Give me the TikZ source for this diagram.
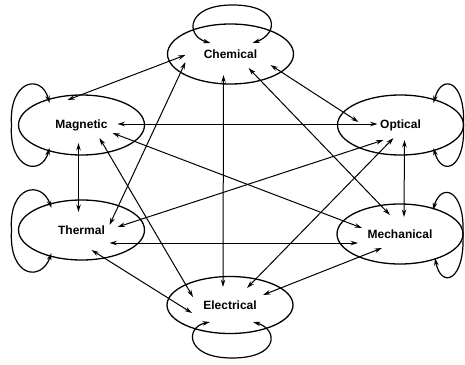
\documentclass[tikz,border=0pt]{standalone}
\usepackage{fontspec}
\setmainfont{Liberation Sans}
\usetikzlibrary{shapes.geometric,arrows.meta,calc}
\begin{document}
\begin{tikzpicture}[x=1pt,y=-1pt,
  form/.style={draw,ellipse,line width=1.3pt,minimum width=126pt,minimum height=60pt,inner sep=0pt,font=\fontsize{12}{14}\selectfont\bfseries},
  conn/.style={line width=1pt,{Stealth[length=7.5pt,width=4.5pt]}-{Stealth[length=7.5pt,width=4.5pt]}},
  selfloop/.style={conn,line width=1.2pt}]
\useasboundingbox (0,0) rectangle (465,364);

\node[form] (chem) at (230.5,54) {Chemical};
\node[form] (mag) at (81.5,125) {Magnetic};
\node[form] (opt) at (400.5,125) {Optical};
\node[form] (therm) at (81.5,230) {Thermal};
\node[form] (mech) at (400,234) {Mechanical};
\node[form,minimum height=57pt] (elec) at (230,305) {Electrical};

% connectors
\draw[conn] ($(chem)+(-45,1)$) -- ($(mag)+(-14,-25)$);
\draw[conn] ($(chem)+(-45,8)$) -- ($(therm)+(28,-5)$);
\draw[conn] ($(chem)+(-7,21)$) -- ($(elec)+(-7,-18)$);
\draw[conn] ($(chem)+(18,14)$) -- ($(mech)+(-10,-19)$);
\draw[conn] ($(chem)+(40,11)$) -- ($(opt)+(-42,-3)$);
\draw[conn] ($(mag)+(36,-1)$) -- ($(opt)+(-23,-1)$);
\draw[conn] ($(mag)+(-3,18)$) -- ($(therm)+(-3,-18)$);
\draw[conn] ($(mag)+(18,13)$) -- ($(elec)+(-37,-8)$);
\draw[conn] ($(mag)+(31,8)$) -- ($(mech)+(-38,-6)$);
\draw[conn] ($(opt)+(-17,15)$) -- ($(therm)+(36,-3)$);
\draw[conn] ($(opt)+(-7,13)$) -- ($(elec)+(17,-17)$);
\draw[conn] ($(opt)+(4,15)$) -- ($(mech)+(4,-17)$);
\draw[conn] ($(therm)+(28,13)$) -- ($(mech)+(-42,9)$);
\draw[conn] ($(therm)+(10,20)$) -- ($(elec)+(-38,8)$);
\draw[conn] ($(mech)+(-18,14)$) -- ($(elec)+(33,-10)$);

% self loops
\draw[selfloop] ($(chem)+(-20,-11)$) .. controls ($(chem)+(-45,-18)$) and ($(chem)+(-45,-49)$) .. ($(chem)+(2,-49)$) .. controls ($(chem)+(50,-49)$) and ($(chem)+(48,-20)$) .. ($(chem)+(22,-11)$);
\draw[selfloop] ($(elec)+(-20,17)$) .. controls ($(elec)+(-45,22)$) and ($(elec)+(-45,53)$) .. ($(elec)+(2,53)$) .. controls ($(elec)+(50,53)$) and ($(elec)+(48,24)$) .. ($(elec)+(23,17)$);
\draw[selfloop] ($(mag)+(-32,-22)$) .. controls ($(mag)+(-40,-52)$) and ($(mag)+(-73,-45)$) .. ($(mag)+(-70,0)$) .. controls ($(mag)+(-73,45)$) and ($(mag)+(-40,52)$) .. ($(mag)+(-32,23)$);
\draw[selfloop] ($(therm)+(-30,-22)$) .. controls ($(therm)+(-40,-50)$) and ($(therm)+(-73,-45)$) .. ($(therm)+(-70,0)$) .. controls ($(therm)+(-73,48)$) and ($(therm)+(-40,52)$) .. ($(therm)+(-30,23)$);
\draw[selfloop] ($(opt)+(33,-22)$) .. controls ($(opt)+(41,-52)$) and ($(opt)+(65,-45)$) .. ($(opt)+(63,0)$) .. controls ($(opt)+(65,45)$) and ($(opt)+(41,52)$) .. ($(opt)+(33,23)$);
\draw[selfloop] ($(mech)+(33,-24)$) .. controls ($(mech)+(41,-52)$) and ($(mech)+(65,-45)$) .. ($(mech)+(63,0)$) .. controls ($(mech)+(65,48)$) and ($(mech)+(41,55)$) .. ($(mech)+(35,24)$);
\end{tikzpicture}
\end{document}
